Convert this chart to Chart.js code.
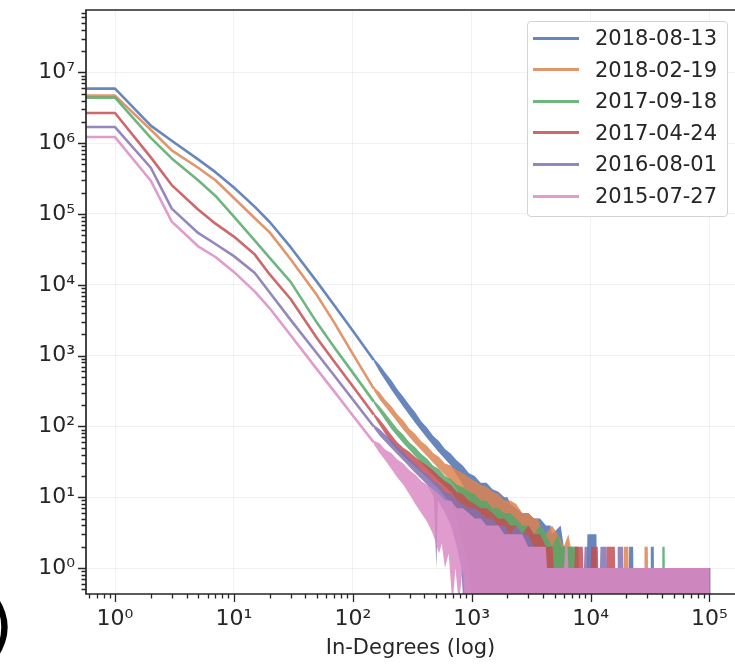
<!DOCTYPE html>
<html>
<head>
<meta charset="utf-8">
<script src="https://cdn.jsdelivr.net/npm/chart.js@4.4.1/dist/chart.umd.min.js"></script>
<style>
  html, body { margin: 0; padding: 0; background: #fff; overflow: hidden; }
  #wrap { position: relative; width: 735px; height: 664px; }
  #legend { position: absolute; left: 527px; top: 21px; width: 199px; height: 194px;
            border: 1px solid #d3d3d3; border-radius: 4px; background: rgba(255,255,255,0.85);
            font: 21px 'DejaVu Sans', sans-serif; color: #262626; }
  .swatch { position: absolute; left: 5px; width: 46px; height: 3px; }
  .label { position: absolute; left: 67px; height: 26px; line-height: 26px; white-space: nowrap; }
  #panel { position: absolute; left: -13px; top: 592px; font: 68px/68px 'DejaVu Sans', sans-serif; color: #000; }
</style>
</head>
<body>
<div id="wrap">
  <canvas id="degChart" width="735" height="664"></canvas>
  <div id="legend"></div>
  <div id="panel">)</div>
</div>
<script>
// Séries (dates des snapshots) et couleurs
const seriesNames = ['2018-08-13', '2018-02-19', '2017-09-18', '2017-04-24', '2016-08-01', '2015-07-27'];
const seriesColors = ['#4c72b0', '#dd8452', '#55a868', '#c44e52', '#8172b3', '#da8bc3'];

// Partie lisse : degrés et nombre de noeuds
const headX = [0.5, 1, 2, 3, 5, 7, 10, 15, 20, 30, 50, 70, 100, 150];
const head1808 = [5.9e6, 5.9e6, 1.77e6, 1.08e6, 5.9e5, 3.9e5, 2.37e5, 1.26e5, 7.7e4, 3.4e4, 1.1e4, 5.1e3, 2.24e3, 870];
const head1802 = [4.7e6, 4.7e6, 1.55e6, 7.9e5, 4.5e5, 3.0e5, 1.68e5, 8.7e4, 5.5e4, 2.3e4, 7.1e3, 2.9e3, 1.06e3, 342];
const head1709 = [4.4e6, 4.4e6, 1.19e6, 6.1e5, 3.0e5, 1.8e5, 9.2e4, 4.2e4, 2.4e4, 1.1e4, 2.9e3, 1.3e3, 575, 224];
const head1704 = [2.67e6, 2.67e6, 6.3e5, 2.56e5, 1.16e5, 7.3e4, 4.8e4, 2.67e4, 1.4e4, 6.3e3, 1.76e3, 820, 370, 147];
const head1608 = [1.69e6, 1.69e6, 4.5e5, 1.19e5, 5.4e4, 3.77e4, 2.54e4, 1.47e4, 7.8e3, 3.2e3, 1.07e3, 520, 240, 100];
const head1507 = [1.22e6, 1.22e6, 2.95e5, 7.8e4, 3.5e4, 2.47e4, 1.52e4, 8.0e3, 4.66e3, 1.94e3, 640, 310, 143, 59.5];

// Queue bruitée : enveloppe haute / basse [degré, nombre]
const FLOOR = 0.3; // compte nul (sous l'axe)
const upper1808 = [[150,910],[168,740],[188,575],[211,450],[237,335],[266,262],[299,200],[335,158],[376,118],[422,96],[473,74],[531,62],[596,48],[668,41],[750,33],[841,28],[944,22],[1059,20],[1189,16],[1334,16],[1496,13],[1679,12],[1884,10],[2000,10],[2113,8],[2371,7],[2661,6],[2985,6],[3350,5],[3758,5],[4217,4],[4600,4],[4732,3],[5600,4],[5957,2],[7000,2],[7500,1],[9300,1],[9400,3],[11200,3],[11300,1],[21000,1],[21100,2],[22800,2],[22900,1],[32000,1],[32100,2],[34000,2],[34100,1],[100000,1]];
const lower1808 = [[150,830],[168,590],[211,330],[266,190],[335,112],[422,68],[531,43],[668,28],[841,15],[1059,7],[1250,3],[1400,1],[1496,FLOOR],[100000,FLOOR]];
const upper1802 = [[150,360],[168,305],[188,236],[211,192],[237,148],[266,121],[299,93],[335,78],[376,62],[422,53],[473,42],[531,37],[596,30],[668,28],[750,24],[841,22],[944,19],[1059,17],[1189,15],[1334,14],[1496,12],[1679,11],[1884,9],[2113,9],[2371,8],[2661,6],[2985,6],[3350,5],[3600,5],[3758,4],[4217,3],[4732,4],[5309,3],[5957,2],[6500,3],[6800,2],[7600,2],[7700,1],[19000,1],[19100,2],[20800,2],[20900,1],[28300,1],[28400,2],[30300,2],[30400,1],[101000,1]];
const lower1802 = [[150,325],[168,240],[211,148],[266,90],[335,57],[422,38],[531,25],[668,17],[841,10],[1059,5],[1250,2],[1400,FLOOR],[101000,FLOOR]];
const upper1709 = [[150,235],[168,192],[188,152],[211,118],[237,92],[266,76],[299,60],[335,51],[376,41],[422,35],[473,28],[531,25],[596,20],[668,18],[750,15],[841,14],[944,12],[1059,11],[1189,9],[1334,9],[1496,7],[1679,7],[1884,6],[2113,6],[2371,5],[2661,4],[2985,4],[3350,3],[3758,4],[4217,3],[4732,2],[5309,3],[5700,2],[7900,2],[8000,1],[40000,1],[40100,2],[42000,2],[42100,1],[100500,1]];
const lower1709 = [[150,213],[168,160],[211,92],[266,58],[335,38],[422,25],[531,17],[668,12],[841,7],[1000,3],[1100,1],[1150,FLOOR],[100500,FLOOR]];
const upper1704 = [[150,154],[168,126],[188,99],[211,76],[237,60],[266,50],[299,44],[335,37],[376,32],[422,28],[473,24],[531,20],[596,17],[668,15],[750,12],[841,11],[944,9],[1059,8],[1189,7],[1334,7],[1496,6],[1679,5],[1884,5],[2113,4],[2371,4],[2661,3],[2985,4],[3350,3],[3758,3],[4217,2],[4800,2],[4900,1],[7300,1],[7400,2],[8600,2],[8700,1],[10000,1],[10100,2],[11500,2],[11600,1],[13500,1],[13600,2],[16000,2],[16100,1],[99500,1]];
const lower1704 = [[150,140],[168,104],[211,58],[266,38],[335,27],[422,19],[531,13],[668,8],[750,5],[850,2],[950,1],[1000,FLOOR],[99500,FLOOR]];
const upper1608 = [[150,105],[168,92],[188,76],[211,64],[237,51],[266,44],[299,35],[335,30],[376,24],[422,21],[473,17],[531,15],[596,12],[668,11],[750,9],[841,8],[944,7],[1059,7],[1189,6],[1334,5],[1496,5],[1679,4],[1884,4],[2113,3],[2371,4],[2661,3],[2985,3],[3350,2],[4100,2],[4200,1],[8800,1],[8900,2],[9600,2],[9700,1],[12000,1],[12100,2],[13600,2],[13700,1],[16800,1],[16900,2],[18800,2],[18900,1],[102000,1]];
const lower1608 = [[150,95],[168,74],[211,49],[266,33],[335,22],[422,15],[480,10],[505,1],[520,9],[596,6],[668,4],[750,2],[820,1],[850,FLOOR],[102000,FLOOR]];
const upper1507 = [[150,63],[168,58],[188,47],[211,42],[237,34],[266,30],[299,24],[335,21],[376,17],[422,15],[473,13],[531,11],[596,9],[668,9],[750,7],[841,7],[944,6],[1059,5],[1189,5],[1334,4],[1496,4],[1679,4],[1884,3],[2113,3],[2371,3],[2661,3],[2985,2],[3350,2],[4200,2],[4300,1],[6000,1],[6100,2],[6400,2],[6500,1],[100000,1]];
const lower1507 = [[150,56],[168,42],[188,33],[211,25],[237,19],[266,15],[299,11],[335,8],[376,6],[422,4.5],[473,3],[531,1.6],[560,2.2],[596,1],[640,1.6],[690,FLOOR],[730,1],[780,FLOOR],[840,1],[880,FLOOR],[100000,FLOOR]];

// Graduations
const xMin = 0.57, xMax = 1.64e5;
const yMin = 0.43, yMax = 7.6e7;
const SUP = {'-': '⁻', '0': '⁰', '1': '¹', '2': '²', '3': '³', '4': '⁴', '5': '⁵', '6': '⁶', '7': '⁷', '8': '⁸', '9': '⁹'};

const heads = [head1808, head1802, head1709, head1704, head1608, head1507];
const uppers = [upper1808, upper1802, upper1709, upper1704, upper1608, upper1507];
const lowers = [lower1808, lower1802, lower1709, lower1704, lower1608, lower1507];

function rgba(hex, a) {
  const n = parseInt(hex.slice(1), 16);
  return 'rgba(' + (n >> 16) + ',' + ((n >> 8) & 255) + ',' + (n & 255) + ',' + a + ')';
}
function isPow10(v) {
  const l = Math.log10(v);
  return Math.abs(l - Math.round(l)) < 1e-9;
}
function powLabel(v) {
  if (!isPow10(v)) return null;
  const e = String(Math.round(Math.log10(v)));
  return '10' + e.split('').map(c => SUP[c]).join('');
}
// pas de marge automatique autour des axes
function noPadding(s) {
  s.paddingTop = 0; s.paddingBottom = 0; s.paddingLeft = 0; s.paddingRight = 0;
}

const datasets = [];
seriesNames.forEach((name, i) => {
  const col = rgba(seriesColors[i], 0.85);
  datasets.push({
    label: name,
    data: headX.map((x, j) => [x, heads[i][j]]),
    borderColor: col,
    borderWidth: 2.6,
    borderJoinStyle: 'round',
    pointRadius: 0,
    fill: false,
    order: 11 - 2 * i
  });
  datasets.push({
    label: name + ' (queue)',
    data: uppers[i].concat(lowers[i].slice().reverse()),
    backgroundColor: col,
    borderColor: 'rgba(0,0,0,0)',
    borderWidth: 0,
    pointRadius: 0,
    fill: 'shape',
    order: 10 - 2 * i
  });
});

// Ticks et cadre façon matplotlib
const frame = {
  id: 'frame',
  afterDraw(chart) {
    const {ctx, chartArea: a, scales: {x, y}} = chart;
    ctx.save();
    ctx.strokeStyle = '#262626';
    ctx.lineWidth = 1.3;
    ctx.beginPath();
    for (let e = -1; e <= 8; e++) {
      for (let m = 1; m <= 9; m++) {
        const v = m * Math.pow(10, e);
        const len = m === 1 ? 8 : 4.5;
        if (v >= yMin && v <= yMax) {
          const py = Math.round(y.getPixelForValue(v)) + 0.5;
          ctx.moveTo(a.left - len, py);
          ctx.lineTo(a.left, py);
        }
        if (v >= xMin && v <= xMax) {
          const px = Math.round(x.getPixelForValue(v)) + 0.5;
          ctx.moveTo(px, a.bottom);
          ctx.lineTo(px, a.bottom + len);
        }
      }
    }
    ctx.stroke();
    ctx.lineWidth = 1.7;
    ctx.beginPath();
    ctx.moveTo(a.right, a.top);
    ctx.lineTo(a.left, a.top);
    ctx.lineTo(a.left, a.bottom);
    ctx.lineTo(a.right, a.bottom);
    ctx.stroke();
    ctx.restore();
  }
};

Chart.defaults.font.family = "'DejaVu Sans', sans-serif";
Chart.defaults.color = '#262626';

const ctx = document.getElementById('degChart').getContext('2d');
const chart = new Chart(ctx, {
  type: 'line',
  data: { datasets: datasets },
  options: {
    responsive: false,
    animation: false,
    events: [],
    devicePixelRatio: 1,
    layout: { padding: { top: 10, right: 0, left: 0, bottom: 0 } },
    elements: { line: { tension: 0 } },
    plugins: { legend: { display: false }, tooltip: { enabled: false } },
    scales: {
      x: {
        type: 'logarithmic',
        min: xMin,
        max: xMax,
        afterFit: (s) => { s.height = 70; noPadding(s); },
        grid: {
          drawTicks: false,
          color: (c) => (c.tick && isPow10(c.tick.value)) ? 'rgba(0,0,0,0.05)' : 'rgba(0,0,0,0)'
        },
        border: { display: false },
        ticks: { autoSkip: false, maxRotation: 0, padding: 12, font: { size: 22 }, callback: (v) => powLabel(v) },
        title: { display: true, text: 'In-Degrees (log)', font: { size: 21 }, padding: { top: 0, bottom: 3 } }
      },
      y: {
        type: 'logarithmic',
        min: yMin,
        max: yMax,
        afterFit: (s) => { s.width = 86; noPadding(s); },
        grid: {
          drawTicks: false,
          color: (c) => (c.tick && isPow10(c.tick.value)) ? 'rgba(0,0,0,0.05)' : 'rgba(0,0,0,0)'
        },
        border: { display: false },
        ticks: { autoSkip: false, padding: 11, font: { size: 22 }, callback: (v) => powLabel(v) }
      }
    }
  },
  plugins: [frame]
});

// Légende
const legend = document.getElementById('legend');
seriesNames.forEach((name, i) => {
  const cy = 16 + i * 31.6;
  const sw = document.createElement('div');
  sw.className = 'swatch';
  sw.style.top = (cy - 1.5) + 'px';
  sw.style.background = rgba(seriesColors[i], 0.85);
  legend.appendChild(sw);
  const lb = document.createElement('div');
  lb.className = 'label';
  lb.style.top = (cy - 13) + 'px';
  lb.textContent = name;
  legend.appendChild(lb);
});
</script>
</body>
</html>
